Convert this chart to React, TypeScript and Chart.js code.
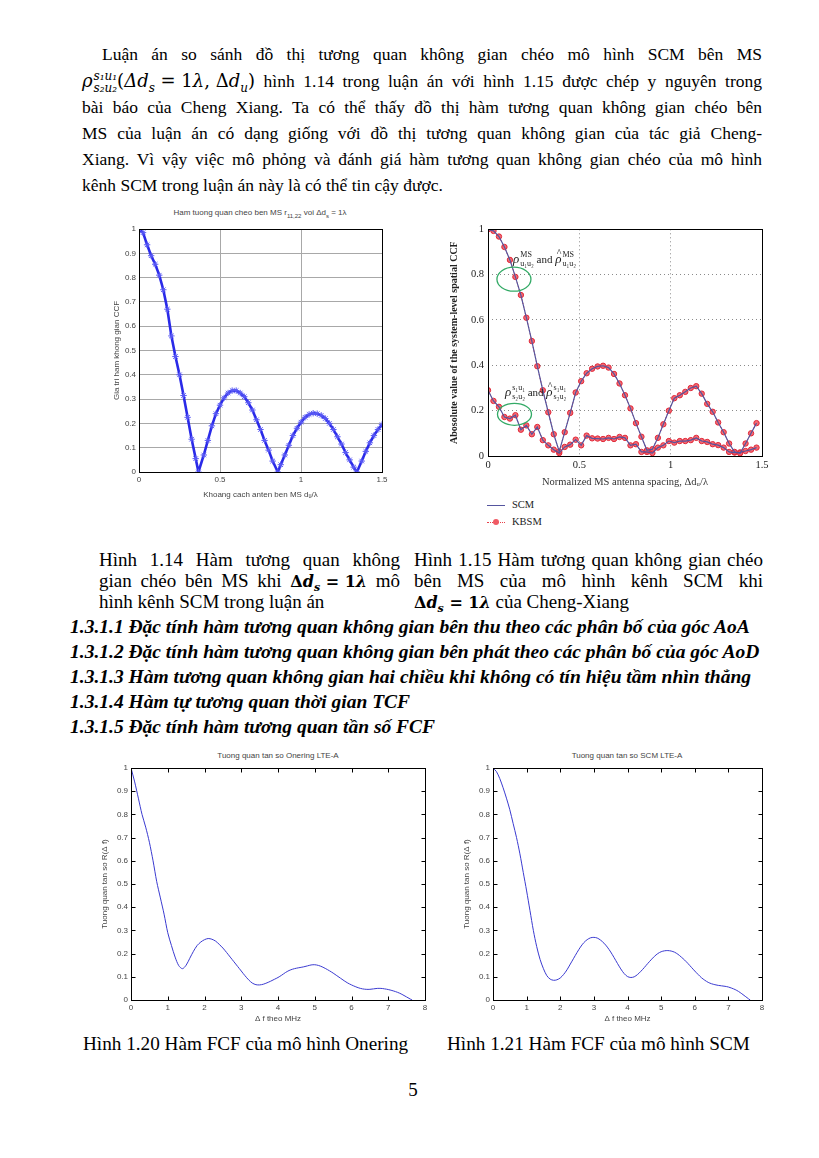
import React, { useEffect, useRef } from "react";
import { Chart, registerables } from "chart.js";
Chart.register(...registerables);

// ---------------- DATA ----------------
// Fig 1.14: |CCF| at MS, Δd_s = 1λ
const ccfMsX = [0, 0.025, 0.05, 0.075, 0.1, 0.125, 0.15, 0.175, 0.2, 0.225, 0.25, 0.275, 0.3, 0.325, 0.35, 0.367, 0.4, 0.425, 0.45, 0.475, 0.5, 0.525, 0.55, 0.575, 0.6, 0.625, 0.65, 0.675, 0.7, 0.725, 0.75, 0.775, 0.8, 0.825, 0.857, 0.875, 0.9, 0.925, 0.95, 0.975, 1.0, 1.025, 1.05, 1.075, 1.1, 1.125, 1.15, 1.175, 1.2, 1.225, 1.25, 1.275, 1.3, 1.325, 1.345, 1.375, 1.4, 1.425, 1.45, 1.475, 1.5];
const ccfMsY = [1.0, 0.985, 0.935, 0.89, 0.855, 0.81, 0.75, 0.67, 0.56, 0.475, 0.4, 0.315, 0.225, 0.135, 0.055, 0.0, 0.07, 0.13, 0.19, 0.24, 0.275, 0.305, 0.325, 0.335, 0.335, 0.325, 0.31, 0.285, 0.255, 0.215, 0.175, 0.13, 0.09, 0.045, 0.0, 0.03, 0.07, 0.11, 0.15, 0.18, 0.205, 0.225, 0.237, 0.242, 0.24, 0.233, 0.22, 0.2, 0.175, 0.145, 0.115, 0.08, 0.05, 0.02, 0.0, 0.045, 0.085, 0.12, 0.15, 0.175, 0.195];

// Fig 1.15: Cheng-Xiang SCM / KBSM
const kbX = [0, 0.03, 0.06, 0.09, 0.12, 0.15, 0.18, 0.21, 0.24, 0.27, 0.3, 0.33, 0.36, 0.39, 0.42, 0.45, 0.48, 0.51, 0.54, 0.57, 0.6, 0.63, 0.66, 0.69, 0.72, 0.75, 0.78, 0.81, 0.84, 0.87, 0.9, 0.93, 0.96, 0.99, 1.02, 1.05, 1.08, 1.11, 1.14, 1.17, 1.2, 1.23, 1.26, 1.29, 1.32, 1.35, 1.38, 1.41, 1.44, 1.47];
const scmUpper = [1.0, 0.993, 0.968, 0.922, 0.865, 0.79, 0.71, 0.61, 0.507, 0.396, 0.29, 0.193, 0.096, 0.02, 0.105, 0.19, 0.28, 0.33, 0.365, 0.385, 0.395, 0.398, 0.39, 0.362, 0.32, 0.268, 0.21, 0.145, 0.085, 0.025, 0.03, 0.08, 0.14, 0.2, 0.255, 0.268, 0.283, 0.3, 0.308, 0.275, 0.23, 0.195, 0.148, 0.105, 0.055, 0.018, 0.012, 0.055, 0.1, 0.145];
const kbsmUpper = scmUpper;
const scmLower = [0.29, 0.243, 0.217, 0.172, 0.165, 0.18, 0.116, 0.135, 0.096, 0.128, 0.07, 0.047, 0.028, 0.013, 0.04, 0.05, 0.072, 0.047, 0.09, 0.078, 0.077, 0.075, 0.08, 0.075, 0.084, 0.08, 0.047, 0.052, 0.018, 0.018, 0.013, 0.037, 0.047, 0.066, 0.059, 0.066, 0.066, 0.07, 0.08, 0.066, 0.062, 0.052, 0.048, 0.037, 0.018, 0.015, 0.016, 0.022, 0.028, 0.037];
const kbsmLower = scmLower;

// Fig 1.20 / 1.21: FCF
const fcfX = [0, 0.1, 0.2, 0.3, 0.4, 0.5, 0.6, 0.7, 0.8, 0.9, 1.0, 1.1, 1.2, 1.3, 1.4, 1.5, 1.6, 1.7, 1.8, 1.9, 2.0, 2.1, 2.2, 2.3, 2.4, 2.5, 2.6, 2.7, 2.8, 2.9, 3.0, 3.1, 3.2, 3.3, 3.4, 3.5, 3.6, 3.7, 3.8, 3.9, 4.0, 4.1, 4.2, 4.3, 4.4, 4.5, 4.6, 4.7, 4.8, 4.9, 5.0, 5.1, 5.2, 5.3, 5.4, 5.5, 5.6, 5.7, 5.8, 5.9, 6.0, 6.1, 6.2, 6.3, 6.4, 6.5, 6.6, 6.7, 6.8, 6.9, 7.0, 7.1, 7.2, 7.3, 7.4, 7.5, 7.6, 7.65];
const fcfOnering = [1.0, 0.94, 0.87, 0.8, 0.745, 0.68, 0.6, 0.51, 0.44, 0.37, 0.29, 0.235, 0.185, 0.148, 0.135, 0.15, 0.18, 0.21, 0.235, 0.25, 0.26, 0.265, 0.262, 0.254, 0.24, 0.224, 0.205, 0.185, 0.165, 0.145, 0.125, 0.105, 0.087, 0.073, 0.066, 0.065, 0.068, 0.074, 0.081, 0.089, 0.097, 0.107, 0.118, 0.127, 0.133, 0.137, 0.14, 0.143, 0.147, 0.151, 0.152, 0.149, 0.143, 0.135, 0.126, 0.116, 0.105, 0.094, 0.083, 0.073, 0.065, 0.058, 0.052, 0.048, 0.046, 0.046, 0.048, 0.05, 0.05, 0.048, 0.045, 0.041, 0.036, 0.03, 0.022, 0.013, 0.004, 0.0];
const fcfScm = [1.0, 0.985, 0.955, 0.915, 0.87, 0.82, 0.76, 0.7, 0.63, 0.55, 0.47, 0.385, 0.3, 0.23, 0.175, 0.135, 0.105, 0.09, 0.085, 0.087, 0.095, 0.11, 0.13, 0.155, 0.18, 0.205, 0.228, 0.247, 0.26, 0.268, 0.27, 0.267, 0.258, 0.245, 0.228, 0.207, 0.183, 0.158, 0.134, 0.114, 0.101, 0.097, 0.1, 0.11, 0.124, 0.14, 0.157, 0.173, 0.188, 0.2, 0.208, 0.212, 0.213, 0.211, 0.206, 0.197, 0.185, 0.172, 0.157, 0.141, 0.125, 0.11, 0.096, 0.085, 0.076, 0.07, 0.066, 0.063, 0.061, 0.059, 0.056, 0.051, 0.045, 0.037, 0.027, 0.016, 0.005, 0.0];

const pts = (xs: number[], ys: number[]) => xs.map((x, i) => ({ x, y: ys[i] }));
const fmt = (v: any) => String(Math.round(Number(v) * 100) / 100);

// ---------------- PLUGINS ----------------
const framePlugin = {
  id: "frame",
  afterDraw(chart: any, _a: any, opts: any) {
    const { ctx, chartArea: a, scales } = chart;
    ctx.save();
    ctx.strokeStyle = "#000";
    ctx.lineWidth = 1;
    const L = Math.round(a.left) + 0.5, R = Math.round(a.right) + 0.5;
    const T = Math.round(a.top) + 0.5, B = Math.round(a.bottom) + 0.5;
    ctx.strokeRect(L, T, R - L, B - T);
    if (opts && opts.ticks) {
      const len = opts.ticks;
      ctx.beginPath();
      scales.x.ticks.forEach((t: any) => {
        const px = Math.round(scales.x.getPixelForValue(t.value)) + 0.5;
        ctx.moveTo(px, B); ctx.lineTo(px, B - len);
        ctx.moveTo(px, T); ctx.lineTo(px, T + len);
      });
      scales.y.ticks.forEach((t: any) => {
        const py = Math.round(scales.y.getPixelForValue(t.value)) + 0.5;
        ctx.moveTo(L, py); ctx.lineTo(L + len, py);
        ctx.moveTo(R, py); ctx.lineTo(R - len, py);
      });
      ctx.stroke();
    }
    ctx.restore();
  },
};

function drawRho(ctx: any, x: number, y: number, sup: string, sub: string, hat: boolean) {
  ctx.font = "italic 13px 'Liberation Serif'";
  ctx.fillText("ρ", x, y);
  const w = ctx.measureText("ρ").width;
  if (hat) {
    ctx.font = "10px 'Liberation Serif'";
    ctx.fillText("^", x + 1.5, y - 7);
  }
  ctx.font = "8px 'Liberation Serif'";
  const ws = ctx.measureText(sup).width;
  const wb = ctx.measureText(sub).width;
  ctx.fillText(sup, x + w + 1, y - 6);
  ctx.fillText(sub, x + w + 1, y + 3);
  return x + w + 1 + Math.max(ws, wb);
}

const chengPlugin = {
  id: "cheng",
  afterDatasetsDraw(chart: any) {
    const { ctx, scales } = chart;
    const X = (v: number) => scales.x.getPixelForValue(v);
    const Y = (v: number) => scales.y.getPixelForValue(v);
    ctx.save();
    ctx.strokeStyle = "#33aa66";
    ctx.lineWidth = 1.3;
    ctx.beginPath();
    ctx.ellipse(X(0.142), Y(0.78), 17, 12, 0, 0, Math.PI * 2);
    ctx.stroke();
    ctx.beginPath();
    ctx.ellipse(X(0.145), Y(0.184), 17, 11, 0, 0, Math.PI * 2);
    ctx.stroke();
    ctx.fillStyle = "#222";
    ctx.textBaseline = "alphabetic";
    let x = X(0.137);
    let y = Y(0.85);
    x = drawRho(ctx, x, y, "MS", "u₁u₂", false);
    ctx.font = "11px 'Liberation Serif'";
    ctx.fillText(" and ", x, y);
    x += ctx.measureText(" and ").width;
    drawRho(ctx, x, y, "MS", "u₁u₂", true);
    x = X(0.093);
    y = Y(0.265);
    x = drawRho(ctx, x, y, "s₁u₁", "s₂u₂", false);
    ctx.font = "11px 'Liberation Serif'";
    ctx.fillText(" and ", x, y);
    x += ctx.measureText(" and ").width;
    drawRho(ctx, x, y, "s₁u₁", "s₂u₂", true);
    ctx.restore();
  },
};

// ---------------- CHART HELPERS ----------------
type Spec = {
  left: number; top: number; w: number; h: number;
  make: () => any;
};

function ChartBox({ spec }: { spec: Spec }) {
  const ref = useRef<HTMLCanvasElement>(null);
  useEffect(() => {
    const c = new Chart(ref.current as HTMLCanvasElement, spec.make());
    return () => c.destroy();
  }, []);
  return (
    <canvas
      ref={ref}
      width={spec.w}
      height={spec.h}
      style={{ position: "absolute", left: spec.left, top: spec.top, width: spec.w, height: spec.h }}
    />
  );
}

const sans = "'Liberation Sans', Arial, sans-serif";
const serif = "'Liberation Serif', 'Times New Roman', serif";

function matlabConfig(o: {
  data: { x: number; y: number }[];
  xMax: number; xStep: number;
  xTitle: string; yTitle: string;
  yW: number; xH: number;
  grid: boolean;
  ds: any;
}) {
  const tickFont = { family: sans, size: 8 };
  return {
    type: "line",
    data: { datasets: [{ data: o.data, ...o.ds }] },
    plugins: [framePlugin],
    options: {
      animation: false,
      responsive: false,
      devicePixelRatio: 1,
      layout: { padding: { top: 10, right: 10, left: 0, bottom: 0 } },
      plugins: { legend: { display: false }, tooltip: { enabled: false }, title: { display: false }, frame: { ticks: o.grid ? 0 : 4 } },
      scales: {
        x: {
          type: "linear", min: 0, max: o.xMax,
          ticks: { stepSize: o.xStep, font: tickFont, color: "#444", padding: 3, maxRotation: 0, autoSkip: false, callback: fmt },
          grid: { display: o.grid, color: "#a8a8a8", drawTicks: false },
          border: { display: false },
          title: { display: true, text: o.xTitle, font: { family: sans, size: 8 }, color: "#444", padding: { top: 2, bottom: 4 } },
          afterFit: (s: any) => { s.height = o.xH; },
        },
        y: {
          type: "linear", min: 0, max: 1,
          ticks: { stepSize: 0.1, font: tickFont, color: "#444", padding: 3, autoSkip: false, callback: fmt },
          grid: { display: o.grid, color: "#a8a8a8", drawTicks: false },
          border: { display: false },
          title: { display: true, text: o.yTitle, font: { family: sans, size: 8 }, color: "#444", padding: { top: 4, bottom: 2 } },
          afterFit: (s: any) => { s.width = o.yW; },
        },
      },
    },
  };
}

const spec1: Spec = {
  left: 108, top: 219, w: 284, h: 285,
  make: () => matlabConfig({
    data: pts(ccfMsX, ccfMsY), xMax: 1.5, xStep: 0.5,
    xTitle: "Khoang cach anten ben MS dᵤ/λ", yTitle: "Gia tri ham khong gian CCF",
    yW: 31, xH: 32, grid: true,
    ds: { borderColor: "#2a2ae8", borderWidth: 2.6, pointStyle: "star", pointRadius: 3.2, pointBorderColor: "#5a5af5", pointBorderWidth: 1, pointBackgroundColor: "#5a5af5", tension: 0 },
  }),
};

const spec3: Spec = {
  left: 96, top: 758, w: 339, h: 270,
  make: () => matlabConfig({
    data: pts(fcfX, fcfOnering), xMax: 8, xStep: 1,
    xTitle: "Δ f theo MHz", yTitle: "Tuong quan tan so R(Δ f)",
    yW: 35, xH: 28, grid: false,
    ds: { borderColor: "#3a3ad0", borderWidth: 1, pointRadius: 0, tension: 0.3 },
  }),
};

const spec4: Spec = {
  left: 458, top: 758, w: 314, h: 270,
  make: () => matlabConfig({
    data: pts(fcfX, fcfScm), xMax: 8, xStep: 1,
    xTitle: "Δ f theo MHz", yTitle: "Tuong quan tan so R(Δ f)",
    yW: 35, xH: 28, grid: false,
    ds: { borderColor: "#3a3ad0", borderWidth: 1, pointRadius: 0, tension: 0.3 },
  }),
};

const spec2: Spec = {
  left: 444, top: 219, w: 330, h: 274,
  make: () => {
    const tickFont = { family: serif, size: 10.5 };
    const kb = { borderColor: "#e8404a", borderWidth: 1, borderDash: [1.5, 2], pointStyle: "circle", pointRadius: 2.7, pointBackgroundColor: "rgba(242,90,100,0.9)", pointBorderColor: "#e02838", pointBorderWidth: 1, tension: 0 };
    const scm = { borderColor: "#55559e", borderWidth: 1.2, pointRadius: 0, tension: 0 };
    return {
      type: "line",
      data: {
        datasets: [
          { label: "SCM", data: pts(kbX, scmUpper), ...scm },
          { label: "SCM", data: pts(kbX, scmLower), ...scm },
          { label: "KBSM", data: pts(kbX, kbsmUpper), ...kb },
          { label: "KBSM", data: pts(kbX, kbsmLower), ...kb },
        ],
      },
      plugins: [framePlugin, chengPlugin],
      options: {
        animation: false,
        responsive: false,
        devicePixelRatio: 1,
        layout: { padding: { top: 10, right: 12, left: 0, bottom: 0 } },
        plugins: { legend: { display: false }, tooltip: { enabled: false }, frame: { ticks: 0 } },
        scales: {
          x: {
            type: "linear", min: 0, max: 1.5,
            ticks: { stepSize: 0.5, font: tickFont, color: "#222", padding: 3, maxRotation: 0, autoSkip: false, callback: fmt },
            grid: { color: "#8a8a8a", drawTicks: false },
            border: { display: false, dash: [1, 3] },
            title: { display: true, text: "Normalized MS antenna spacing, Δdᵤ/λ", font: { family: serif, size: 10.5 }, color: "#333", padding: { top: 2, bottom: 4 } },
            afterFit: (s: any) => { s.height = 37; },
          },
          y: {
            type: "linear", min: 0, max: 1,
            ticks: { stepSize: 0.2, font: tickFont, color: "#222", padding: 4, autoSkip: false, callback: fmt },
            grid: { color: "#8a8a8a", drawTicks: false },
            border: { display: false, dash: [1, 3] },
            title: { display: true, text: "Abosolute value of the system-level spatial CCF", font: { family: serif, size: 10, weight: "bold" }, color: "#222", padding: { top: 4, bottom: 2 } },
            afterFit: (s: any) => { s.width = 44; },
          },
        },
      },
    };
  },
};

// ---------------- TEXT ----------------
const BODY = 17.5;
const CAP = 19;

function Line(props: { top: number; left: number; width?: number; justify?: boolean; indent?: number; bold?: boolean; italic?: boolean; size?: number; lh?: number; children: any }) {
  const lh = props.lh || 26;
  return (
    <div
      style={{
        position: "absolute",
        top: props.top - lh / 2,
        left: props.left,
        width: props.width,
        height: lh,
        lineHeight: lh + "px",
        fontFamily: serif,
        fontSize: props.size || BODY,
        fontWeight: props.bold ? "bold" : "normal",
        fontStyle: props.italic ? "italic" : "normal",
        textAlign: props.justify ? "justify" : "left",
        textAlignLast: props.justify ? "justify" : "auto",
        textIndent: props.indent || 0,
        whiteSpace: props.width ? "normal" : "nowrap",
        color: "#000",
      } as any}
    >
      {props.children}
    </div>
  );
}

const Rho = () => (
  <span style={{ display: "inline-block", whiteSpace: "nowrap", fontFamily: "'DejaVu Serif', serif", fontSize: 18 }}>
    <i>ρ</i>
    <span style={{ display: "inline-block", verticalAlign: "middle", fontSize: 12, lineHeight: "12px", fontStyle: "italic", marginLeft: 1 }}>
      <span style={{ display: "block" }}>s₁u₁</span>
      <span style={{ display: "block" }}>s₂u₂</span>
    </span>
    <span>(</span><i>Δd</i><sub style={{ fontSize: 12, fontStyle: "italic" }}>s</sub><span> = 1</span><i>λ</i><span>, Δ</span><i>d</i><sub style={{ fontSize: 12, fontStyle: "italic" }}>u</sub><span>)</span>
  </span>
);

const DdsMath = () => (
  <span style={{ whiteSpace: "nowrap", display: "inline-block", fontWeight: "bold", fontFamily: "'DejaVu Serif', serif", fontSize: 16 }}>
    Δ<i>d</i><sub style={{ fontSize: 11, fontStyle: "italic" }}>s</sub> = 1<i>λ</i>
  </span>
);

const paraTops = [54.4, 80.6, 106.8, 133, 159.2, 185.4];
const capTops = [559.8, 581.1, 602.4];
const headTops = [626.1, 651.3, 676.5, 701.7, 726.9];
const headings = [
  "1.3.1.1 Đặc tính hàm tương quan không gian bên thu theo các phân bố của góc AoA",
  "1.3.1.2 Đặc tính hàm tương quan không gian bên phát theo các phân bố của góc AoD",
  "1.3.1.3 Hàm tương quan không gian hai chiều khi không có tín hiệu tầm nhìn thẳng",
  "1.3.1.4 Hàm tự tương quan thời gian TCF",
  "1.3.1.5 Đặc tính hàm tương quan tần số FCF",
];

export default function App() {
  return (
    <div style={{ position: "absolute", left: 0, top: 0, width: 819, height: 1158, background: "#fff", overflow: "hidden" }}>
      <style>{`canvas{display:block}`}</style>
      {/* paragraph */}
      <Line top={paraTops[0]} left={82} width={680} justify indent={20}>Luận án so sánh đồ thị tương quan không gian chéo mô hình SCM bên MS</Line>
      <Line top={paraTops[1]} left={82} width={680} justify><Rho /> hình 1.14 trong luận án với hình 1.15 được chép y nguyên trong</Line>
      <Line top={paraTops[2]} left={82} width={680} justify>bài báo của Cheng Xiang. Ta có thể thấy đồ thị hàm tương quan không gian chéo bên</Line>
      <Line top={paraTops[3]} left={82} width={680} justify>MS của luận án có dạng giống với đồ thị tương quan không gian của tác giả Cheng-</Line>
      <Line top={paraTops[4]} left={82} width={680} justify>Xiang. Vì vậy việc mô phỏng và đánh giá hàm tương quan không gian chéo của mô hình</Line>
      <Line top={paraTops[5]} left={82}>kênh SCM trong luận án này là có thể tin cậy được.</Line>

      {/* chart 1 title */}
      <div style={{ position: "absolute", left: 160, width: 200, top: 208, textAlign: "center", fontFamily: sans, fontSize: 8, color: "#444", whiteSpace: "nowrap" }}>
        Ham tuong quan cheo ben MS r<sub style={{ fontSize: 6 }}>11,22</sub> voi Δd<sub style={{ fontSize: 6 }}>s</sub> = 1λ
      </div>
      <ChartBox spec={spec1} />
      <ChartBox spec={spec2} />

      {/* chart 2 legend */}
      <div style={{ position: "absolute", left: 487, top: 505, width: 18, borderTop: "1.3px solid #55559e" }} />
      <div style={{ position: "absolute", left: 512, top: 499, fontFamily: serif, fontSize: 10.5, color: "#222" }}>SCM</div>
      <div style={{ position: "absolute", left: 487, top: 522, width: 18, borderTop: "1.3px dotted #e8404a" }} />
      <div style={{ position: "absolute", left: 493, top: 519, width: 6, height: 6, borderRadius: 3, background: "#f05a64" }} />
      <div style={{ position: "absolute", left: 512, top: 516, fontFamily: serif, fontSize: 10.5, color: "#222" }}>KBSM</div>

      {/* captions */}
      <Line top={capTops[0]} left={99} width={301} justify lh={22} size={CAP}>Hình 1.14 Hàm tương quan không</Line>
      <Line top={capTops[1]} left={99} width={301} justify lh={22} size={CAP}>gian chéo bên MS khi <DdsMath /> mô</Line>
      <Line top={capTops[2]} left={99} lh={22} size={CAP}>hình kênh SCM trong luận án</Line>
      <Line top={capTops[0]} left={414} width={349} justify lh={22} size={CAP}>Hình 1.15 Hàm tương quan không gian chéo</Line>
      <Line top={capTops[1]} left={414} width={349} justify lh={22} size={CAP}>bên MS của mô hình kênh SCM khi</Line>
      <Line top={capTops[2]} left={414} lh={22} size={CAP}><DdsMath /> của Cheng-Xiang</Line>

      {headings.map((h, i) => (
        <Line key={i} top={headTops[i]} left={70} bold italic lh={25} size={19.5}>{h}</Line>
      ))}

      {/* charts 3 & 4 */}
      <div style={{ position: "absolute", left: 178, width: 200, top: 751, textAlign: "center", fontFamily: sans, fontSize: 8, color: "#444", whiteSpace: "nowrap" }}>Tuong quan tan so Onering LTE-A</div>
      <div style={{ position: "absolute", left: 527, width: 200, top: 751, textAlign: "center", fontFamily: sans, fontSize: 8, color: "#444", whiteSpace: "nowrap" }}>Tuong quan tan so SCM LTE-A</div>
      <ChartBox spec={spec3} />
      <ChartBox spec={spec4} />

      <Line top={1044} left={83} size={19.2}>Hình 1.20 Hàm FCF của mô hình Onering</Line>
      <Line top={1044} left={447} size={19.2}>Hình 1.21 Hàm FCF của mô hình SCM</Line>
      <Line top={1090} left={403} width={20} size={19}><span style={{ display: "block", textAlign: "center" }}>5</span></Line>
    </div>
  );
}
